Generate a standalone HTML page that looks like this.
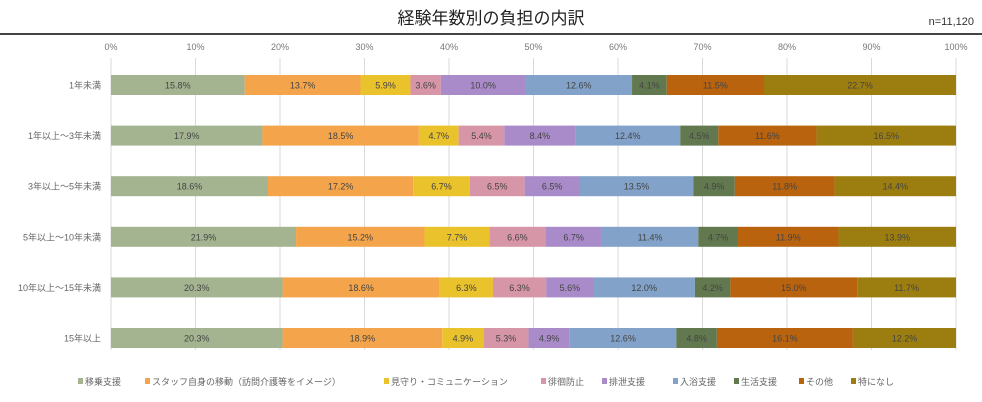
<!DOCTYPE html>
<html><head><meta charset="utf-8"><style>
html,body{margin:0;padding:0;background:#fff;}
svg{display:block;font-family:"Liberation Sans","Noto Sans CJK JP",sans-serif;}
</style></head><body>
<svg id="c" width="982" height="402" viewBox="0 0 982 402">
<text x="491" y="24" text-anchor="middle" font-size="17" fill="#222">経験年数別の負担の内訳</text>
<text x="974" y="25" text-anchor="end" font-size="11" fill="#333">n=11,120</text>
<line x1="0" y1="34" x2="982" y2="34" stroke="#444" stroke-width="2"/>
<g id="grid"></g><g id="bars"></g><g id="legend"></g>
</svg>
<script>
const categories=["1年未満","1年以上～3年未満","3年以上～5年未満","5年以上～10年未満","10年以上～15年未満","15年以上"];
const seriesNames=["移乗支援","スタッフ自身の移動（訪問介護等をイメージ）","見守り・コミュニケーション","徘徊防止","排泄支援","入浴支援","生活支援","その他","特になし"];
const s1=[15.8,17.9,18.6,21.9,20.3,20.3];
const s2=[13.7,18.5,17.2,15.2,18.6,18.9];
const s3=[5.9,4.7,6.7,7.7,6.3,4.9];
const s4=[3.6,5.4,6.5,6.6,6.3,5.3];
const s5=[10.0,8.4,6.5,6.7,5.6,4.9];
const s6=[12.6,12.4,13.5,11.4,12.0,12.6];
const s7=[4.1,4.5,4.9,4.7,4.2,4.8];
const s8=[11.5,11.6,11.8,11.9,15.0,16.1];
const s9=[22.7,16.5,14.4,13.9,11.7,12.2];
const ticks=[0,10,20,30,40,50,60,70,80,90,100];
const series=[s1,s2,s3,s4,s5,s6,s7,s8,s9];
const colors=["#a4b490","#f4a54b","#e9c22c","#d795a8","#a98bc9","#82a2c9","#62794f","#b9630f","#9c7e10"];
const NS="http://www.w3.org/2000/svg";
const X0=111,X1=956,x=v=>X0+(X1-X0)*v/100;
const rowY=i=>85+i*50.6;
function mk(t,a,p){const e=document.createElementNS(NS,t);for(const k in a)e.setAttribute(k,a[k]);p.appendChild(e);return e;}
const grid=document.getElementById('grid');
ticks.forEach(t=>{
 const l=mk('line',{x1:x(t),x2:x(t),y1:58,y2:350,stroke:'#d9d9d9','stroke-width':1},grid);
 
 
 const tx=mk('text',{x:x(t),y:50,'text-anchor':'middle','font-size':9,fill:'#777'},grid);
 tx.textContent=t+'%';
 
 
});
const bars=document.getElementById('bars');
categories.forEach((c,i)=>{
 const y=rowY(i);
 const lb=mk('text',{x:101,y:y+3.5,'text-anchor':'end','font-size':9,fill:'#666'},bars);
 lb.textContent=c;
 
 
 let tot=0;series.forEach(s=>tot+=s[i]);
 let cum=0;
 series.forEach((s,j)=>{
  const a=x(cum/tot*100),b=x((cum+s[i])/tot*100);cum+=s[i];
  const r=mk('rect',{x:a,y:y-10,width:b-a,height:20,fill:colors[j]},bars);
  
  
  const t=mk('text',{x:(a+b)/2,y:y+3.5,'text-anchor':'middle','font-size':9,fill:'#444'},bars);
  t.textContent=s[i].toFixed(1)+'%';
  
  
 });
});
const lg=document.getElementById('legend');
const lx=[78,145,384,541,602,673,734,799,851];
seriesNames.forEach((n,j)=>{
 const r=mk('rect',{x:lx[j],y:378,width:5,height:6,fill:colors[j]},lg);
 
 
 const t=mk('text',{x:lx[j]+7,y:385,'font-size':9,fill:'#666'},lg);
 t.textContent=n;
 
 
});
</script>
</body></html>
